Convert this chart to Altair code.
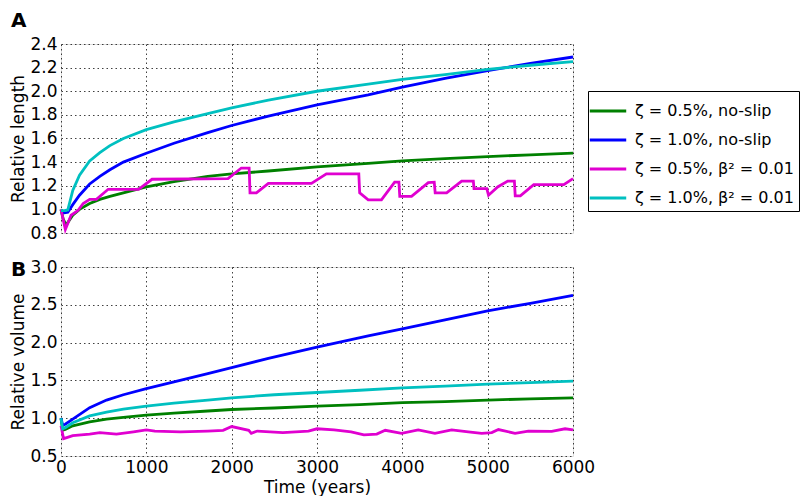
import altair as alt
import pandas as pd

FONT = "DejaVu Sans"

labels = ["ζ = 0.5%, no-slip", "ζ = 1.0%, no-slip", "ζ = 0.5%, β² = 0.01", "ζ = 1.0%, β² = 0.01"]
colors = ["#008000", "#0000ff", "#e000d0", "#00c0c0"]

# ---- Panel A: relative length ----
len_green_t = [0, 25, 59, 138, 217, 336, 455, 573, 731, 1000, 1324, 1720, 2000, 2430, 3000, 3600, 4000, 4500, 5000, 5500, 6000]
len_green_v = [1.00, 0.92, 0.867, 0.95, 1.00, 1.05, 1.085, 1.11, 1.14, 1.19, 1.235, 1.28, 1.30, 1.325, 1.36, 1.39, 1.41, 1.43, 1.447, 1.462, 1.476]

len_blue_t = [0, 40, 80, 138, 217, 336, 455, 573, 731, 1000, 1324, 1720, 2000, 2430, 3000, 3600, 4000, 4500, 5000, 5500, 6000]
len_blue_v = [0.975, 0.97, 0.975, 1.04, 1.12, 1.215, 1.28, 1.335, 1.40, 1.475, 1.56, 1.65, 1.71, 1.79, 1.885, 1.97, 2.035, 2.11, 2.175, 2.235, 2.29]

len_mag_t = [0, 51, 118, 198, 260, 336, 415, 553, 909, 1067, 1957, 2113, 2205, 2215, 2290, 2430, 2935, 3110, 3490, 3500, 3600, 3755, 3910, 3960, 3970, 4108, 4304, 4374, 4385, 4519, 4695, 4832, 4840, 4990, 5010, 5117, 5235, 5313, 5323, 5383, 5540, 5892, 6000]
len_mag_v = [1.00, 0.83, 0.95, 0.99, 1.05, 1.085, 1.085, 1.17, 1.17, 1.255, 1.26, 1.35, 1.35, 1.14, 1.14, 1.22, 1.22, 1.30, 1.30, 1.14, 1.08, 1.08, 1.23, 1.23, 1.11, 1.11, 1.227, 1.23, 1.14, 1.14, 1.24, 1.24, 1.175, 1.175, 1.12, 1.19, 1.24, 1.24, 1.115, 1.115, 1.21, 1.21, 1.26]

len_cyan_t = [0, 40, 80, 138, 217, 336, 455, 573, 731, 1000, 1324, 1720, 2000, 2430, 3000, 3600, 4000, 4500, 5000, 5500, 6000]
len_cyan_v = [0.99, 0.99, 0.995, 1.16, 1.29, 1.41, 1.48, 1.54, 1.60, 1.675, 1.74, 1.81, 1.86, 1.925, 2.00, 2.06, 2.10, 2.14, 2.185, 2.22, 2.25]

# ---- Panel B: relative volume ----
vol_green_t = [0, 20, 50, 138, 336, 534, 731, 1000, 1324, 1720, 2000, 2500, 3000, 3500, 4000, 4500, 5000, 5500, 6000]
vol_green_v = [1.00, 0.84, 0.85, 0.90, 0.95, 0.987, 1.01, 1.04, 1.066, 1.095, 1.115, 1.135, 1.16, 1.18, 1.205, 1.22, 1.24, 1.255, 1.27]

vol_blue_t = [0, 20, 50, 138, 336, 534, 731, 1000, 1324, 1720, 2000, 2430, 3000, 3600, 4000, 4500, 5000, 5500, 6000]
vol_blue_v = [1.00, 0.907, 0.92, 0.987, 1.14, 1.24, 1.31, 1.39, 1.48, 1.59, 1.67, 1.79, 1.94, 2.09, 2.18, 2.30, 2.42, 2.52, 2.625]

vol_mag_t = [0, 30, 138, 336, 455, 650, 850, 1000, 1100, 1400, 1720, 1900, 2000, 2200, 2230, 2300, 2600, 2900, 3000, 3200, 3400, 3550, 3700, 3800, 3991, 4186, 4382, 4578, 4773, 4930, 5048, 5126, 5321, 5477, 5751, 5907, 6000]
vol_mag_v = [0.90, 0.73, 0.77, 0.79, 0.81, 0.79, 0.82, 0.845, 0.83, 0.82, 0.83, 0.84, 0.89, 0.84, 0.80, 0.83, 0.81, 0.83, 0.86, 0.845, 0.82, 0.78, 0.79, 0.84, 0.80, 0.845, 0.80, 0.845, 0.82, 0.80, 0.81, 0.85, 0.80, 0.83, 0.825, 0.86, 0.845]

vol_cyan_t = [0, 20, 50, 138, 336, 534, 731, 1000, 1324, 1720, 2000, 2500, 3000, 3500, 4000, 4500, 5000, 5500, 6000]
vol_cyan_v = [1.00, 0.86, 0.875, 0.94, 1.03, 1.08, 1.12, 1.16, 1.20, 1.24, 1.27, 1.31, 1.34, 1.37, 1.40, 1.425, 1.45, 1.47, 1.49]

x_ticks = [0, 1000, 2000, 3000, 4000, 5000, 6000]
len_ticks = [0.8, 1.0, 1.2, 1.4, 1.6, 1.8, 2.0, 2.2, 2.4]
vol_ticks = [0.5, 1.0, 1.5, 2.0, 2.5, 3.0]


def frame(series):
    rows = []
    for lab, (ts, vs) in zip(labels, series):
        for i, (t, v) in enumerate(zip(ts, vs)):
            rows.append({"series": lab, "t": t, "v": v, "i": i})
    return pd.DataFrame(rows)


df_len = frame([(len_green_t, len_green_v), (len_blue_t, len_blue_v),
                (len_mag_t, len_mag_v), (len_cyan_t, len_cyan_v)])
df_vol = frame([(vol_green_t, vol_green_v), (vol_blue_t, vol_blue_v),
                (vol_mag_t, vol_mag_v), (vol_cyan_t, vol_cyan_v)])

grid_kw = dict(grid=True, gridDash=[1.5, 3], gridColor="#000000", gridOpacity=0.75,
               gridWidth=1, ticks=False, domain=False, labelFont=FONT, labelFontSize=17,
               labelColor="black", labelFlush=False, titleFont=FONT, titleFontSize=17,
               titleFontWeight="normal", titleColor="black")

color_scale = alt.Scale(domain=labels, range=colors)

W, H = 512, 189

top_lines = alt.Chart(df_len).mark_line(strokeWidth=2.8).encode(
    x=alt.X("t:Q", scale=alt.Scale(domain=[0, 6000], nice=False),
            axis=alt.Axis(values=x_ticks, labels=False, title=None, **grid_kw)),
    y=alt.Y("v:Q", scale=alt.Scale(domain=[0.8, 2.4], nice=False, zero=False),
            axis=alt.Axis(values=len_ticks, format=".1f", title="Relative length",
                          labelPadding=4, titlePadding=2, **grid_kw)),
    color=alt.Color("series:N", scale=color_scale, sort=labels,
                    legend=alt.Legend(orient="none", legendX=527, legendY=47, title=None,
                                      strokeColor="black", fillColor="white", padding=5,
                                      symbolType="M-1.35,0H1.35", symbolSize=729,
                                      symbolStrokeWidth=3, labelFont=FONT, labelFontSize=16,
                                      labelColor="black", labelOffset=12, rowPadding=6,
                                      labelLimit=300)),
    order="i:Q",
)

label_a = alt.Chart(pd.DataFrame({"panel": ["A"]})).mark_text(
    font=FONT, fontSize=20, fontWeight="bold", align="left", baseline="top", color="black"
).encode(x=alt.value(-50), y=alt.value(-33), text="panel:N")

top = alt.layer(top_lines, label_a).properties(width=W, height=H)

bot_lines = alt.Chart(df_vol).mark_line(strokeWidth=2.8).encode(
    x=alt.X("t:Q", scale=alt.Scale(domain=[0, 6000], nice=False),
            axis=alt.Axis(values=x_ticks, format="d", title="Time (years)",
                          labelPadding=3, titlePadding=4, **grid_kw)),
    y=alt.Y("v:Q", scale=alt.Scale(domain=[0.5, 3.0], nice=False, zero=False),
            axis=alt.Axis(values=vol_ticks, format=".1f", title="Relative volume",
                          labelPadding=4, titlePadding=2, **grid_kw)),
    color=alt.Color("series:N", scale=color_scale, sort=labels, legend=None),
    order="i:Q",
)

label_b = alt.Chart(pd.DataFrame({"panel": ["B"]})).mark_text(
    font=FONT, fontSize=20, fontWeight="bold", align="left", baseline="top", color="black"
).encode(x=alt.value(-50), y=alt.value(-7), text="panel:N")

bottom = alt.layer(bot_lines, label_b).properties(width=W, height=H)

chart = alt.vconcat(top, bottom, spacing=15).resolve_scale(color="independent").properties(
    padding={"left": 1, "top": 2, "right": 0, "bottom": 0}
).configure_view(stroke="black", strokeWidth=1.5).configure(background="white")

chart.save("out.html", embed_options={"renderer": "svg", "actions": False})
